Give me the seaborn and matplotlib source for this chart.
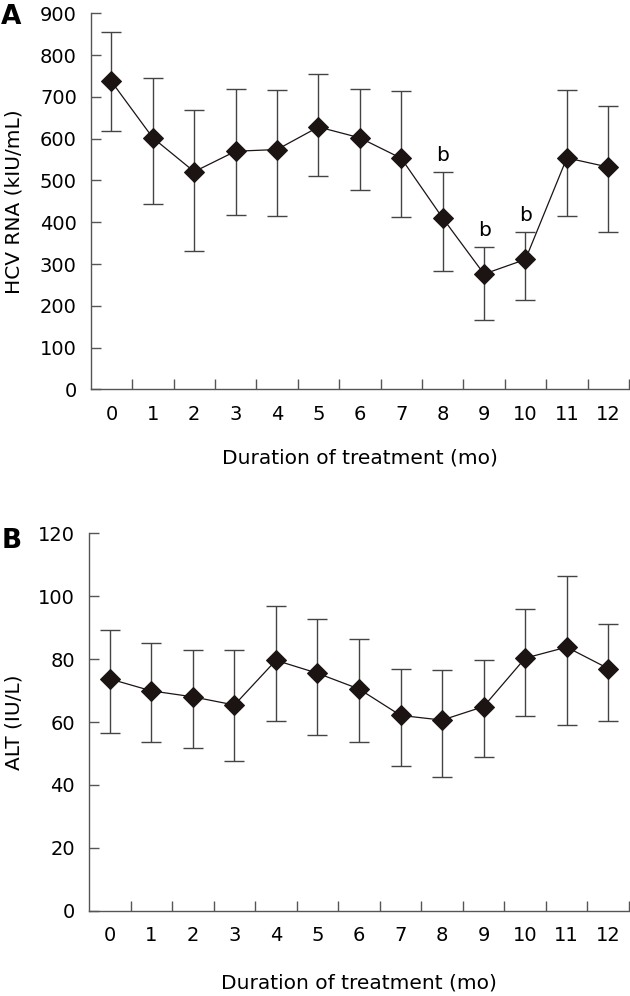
import numpy as np
import pandas as pd
import seaborn as sns
import matplotlib
matplotlib.use("Agg")
import matplotlib.pyplot as plt
from matplotlib.ticker import MultipleLocator, FixedLocator

# months of treatment
months = list(range(13))

# panel A: HCV RNA (kIU/mL), mean with upper/lower error limits
hcv_mean = [737, 602, 521, 570, 574, 628, 602, 553, 410, 276, 311, 554, 532]
hcv_upper = [855, 745, 669, 719, 716, 755, 718, 715, 520, 341, 377, 717, 679]
hcv_lower = [619, 443, 332, 418, 414, 511, 478, 412, 284, 165, 213, 415, 376]
hcv_marks = ["", "", "", "", "", "", "", "", "b", "b", "b", "", ""]

# panel B: ALT (IU/L)
alt_mean = [73.7, 69.9, 68.0, 65.4, 79.6, 75.5, 70.5, 62.1, 60.6, 64.9, 80.3, 83.8, 77.0]
alt_upper = [89.3, 85.0, 82.9, 82.9, 96.9, 92.8, 86.5, 76.9, 76.4, 79.7, 95.9, 106.4, 91.3]
alt_lower = [56.6, 53.6, 51.6, 47.5, 60.2, 55.9, 53.6, 46.1, 42.6, 49.0, 61.9, 59.0, 60.2]

sns.set_style("ticks")
plt.rcParams["font.family"] = ["DejaVu Sans"]
# plain black text instead of seaborn's dark grey
plt.rcParams["text.color"] = "black"
plt.rcParams["axes.labelcolor"] = "black"
plt.rcParams["xtick.labelcolor"] = "black"
plt.rcParams["ytick.labelcolor"] = "black"

AXIS_COLOR = "#555555"
POINT_COLOR = "#1c1313"


def draw_panel(ax, mean, upper, lower, ylabel, ymax, ystep, xlab_y, ylab_x, marks=None):
    '''
    Draws one panel: diamonds joined by a line, with error bars.
    '''
    df = pd.DataFrame({"month": months, "value": mean})
    yerr = [np.array(mean) - np.array(lower), np.array(upper) - np.array(mean)]

    # error bars sit behind the diamonds
    ax.errorbar(months, mean, yerr=yerr, fmt="none", ecolor="#444444",
                elinewidth=1.0, capsize=7, capthick=1.0, zorder=1)

    sns.lineplot(data=df, x="month", y="value", ax=ax, color=POINT_COLOR,
                 linewidth=0.9, marker="D", markersize=10,
                 markerfacecolor=POINT_COLOR, markeredgecolor=POINT_COLOR,
                 zorder=3)

    # significance letters above the upper caps
    if marks is not None:
        for m, top, txt in zip(months, upper, marks):
            if txt:
                ax.annotate(txt, (m, top), xytext=(0, 5), textcoords="offset points",
                            ha="center", va="bottom", fontsize=14.5)

    ax.set_xlim(-0.5, 12.5)
    ax.set_ylim(0, ymax)
    ax.yaxis.set_major_locator(MultipleLocator(ystep))

    # month labels at the centres, tick marks between categories
    ax.xaxis.set_major_locator(FixedLocator(months))
    ax.xaxis.set_minor_locator(FixedLocator([m + 0.5 for m in months]))
    ax.tick_params(axis="x", which="major", length=0, pad=11, labelsize=14)
    ax.tick_params(axis="x", which="minor", direction="in", length=7,
                   width=1, color=AXIS_COLOR)
    ax.tick_params(axis="y", direction="in", length=7, width=1,
                   color=AXIS_COLOR, pad=10, labelsize=14)

    sns.despine(ax=ax)
    for side in ["left", "bottom"]:
        ax.spines[side].set_color(AXIS_COLOR)
        ax.spines[side].set_linewidth(1)

    ax.set_xlabel("Duration of treatment (mo)", fontsize=14.5)
    ax.set_ylabel(ylabel, fontsize=14.5)
    ax.xaxis.label.set_va("center")
    ax.yaxis.label.set_va("center")
    ax.xaxis.set_label_coords(0.5, xlab_y)
    ax.yaxis.set_label_coords(ylab_x, 0.5)


fig = plt.figure(figsize=(6.3, 9.96), dpi=100)
ax_a = fig.add_axes([0.1440, 0.6091, 0.8544, 0.3775])
ax_b = fig.add_axes([0.1413, 0.0856, 0.8571, 0.3790])

draw_panel(ax_a, hcv_mean, hcv_upper, hcv_lower, "HCV RNA (kIU/mL)",
           900, 100, -69 / 376, -0.1420, marks=hcv_marks)
draw_panel(ax_b, alt_mean, alt_upper, alt_lower, "ALT (IU/L)",
           120, 20, -72 / 377.5, -0.1390)

# panel letters
fig.text(11 / 630, 1 - 17.5 / 996, "A", fontsize=19, fontweight="bold",
         ha="center", va="center")
fig.text(12 / 630, 1 - 541 / 996, "B", fontsize=19, fontweight="bold",
         ha="center", va="center")

fig.savefig("out.png", dpi=100)
